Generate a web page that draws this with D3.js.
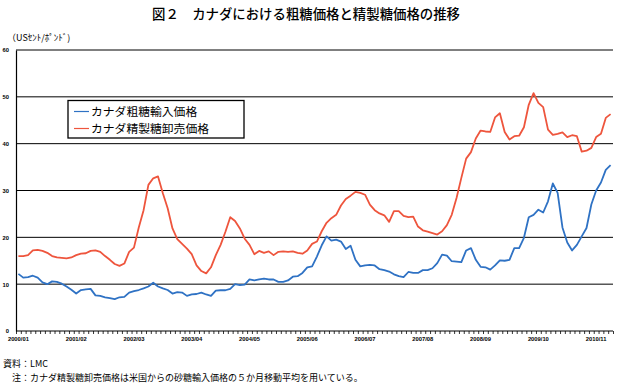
<!DOCTYPE html>
<html><head><meta charset="utf-8">
<script src="https://cdn.jsdelivr.net/npm/d3@7"></script>
<style>
html,body{margin:0;padding:0;background:#fff;}
svg{display:block;font-family:"Noto Sans CJK JP","Liberation Sans",sans-serif;}
</style></head>
<body>
<svg id="chart" width="617" height="389"></svg>
<script>
const title = "図２　カナダにおける粗糖価格と精製糖価格の推移";
const unitLabel = "（USｾﾝﾄ/ﾎﾟﾝﾄﾞ)";
const seriesNames = ["カナダ粗糖輸入価格", "カナダ精製糖卸売価格"];
const xTickLabels = ["2000/01","2001/02","2002/03","2003/04","2004/05","2005/06","2006/07","2007/08","2008/09","2009/10","2010/11"];
const yTicks = [0,10,20,30,40,50,60];
const rawSugar = [12.2,11.4,11.5,11.8,11.4,10.4,10.0,10.6,10.5,10.1,9.5,8.8,8.0,8.75,8.9,9.0,7.6,7.5,7.2,7.0,6.8,7.2,7.3,8.2,8.5,8.75,9.1,9.5,10.3,9.5,9.1,8.75,8.0,8.3,8.2,7.5,7.8,7.9,8.2,7.8,7.5,8.6,8.7,8.7,9.0,10.0,9.8,9.9,11.0,10.8,11.0,11.2,11.0,11.0,10.5,10.5,10.8,11.6,11.7,12.4,13.6,13.8,15.9,18.3,20.2,19.3,19.5,19.1,17.5,18.2,15.2,13.8,14.0,14.1,14.0,13.2,13.0,12.7,12.1,11.7,11.5,12.6,12.4,12.4,13.0,13.0,13.4,14.5,16.3,16.1,14.9,14.8,14.7,17.2,17.7,15.2,13.7,13.6,13.1,14.0,15.1,15.0,15.2,17.7,17.7,19.9,24.3,24.8,25.9,25.3,27.7,31.5,29.5,22.1,18.9,17.2,18.4,20.2,22.0,27.0,30.0,31.7,34.4,35.4];
const refinedSugar = [16.0,16.0,16.2,17.2,17.3,17.1,16.7,16.0,15.7,15.6,15.5,15.7,16.2,16.5,16.6,17.1,17.2,16.9,16.0,15.2,14.3,13.9,14.4,16.9,17.8,22.1,25.8,31.2,32.6,33.0,29.4,26.2,21.9,19.6,18.6,17.6,16.4,14.0,12.8,12.3,13.6,16.2,18.4,21.2,24.3,23.5,21.9,19.7,18.4,16.4,17.1,16.7,17.0,16.2,16.9,17.0,16.9,17.0,16.7,16.5,17.2,18.6,19.1,21.3,23.1,24.1,24.8,26.8,28.2,28.9,29.7,29.5,29.1,27.0,25.8,25.1,24.7,23.3,25.6,25.6,24.6,24.3,24.4,22.3,21.5,21.2,20.9,20.6,21.3,22.6,24.8,28.4,32.7,36.8,38.2,41.1,42.8,42.6,42.5,45.6,46.5,42.5,40.9,41.6,41.7,43.5,48.3,50.8,48.7,47.8,43.0,41.9,42.1,42.4,41.4,41.8,41.6,38.3,38.5,39.1,41.4,42.1,45.5,46.3];
const colors = ["#2f72c4", "#ee553d"];
const monthsPerLabel = 12;

const svg = d3.select("#chart");
const n = rawSugar.length;
const x = d3.scaleLinear().domain([-0.5, n - 0.5]).range([16, 613]);
const y = d3.scaleLinear().domain([0, 60]).range([331, 50]);

// title
svg.append("text").attr("x", 306).attr("y", 19).attr("text-anchor", "middle")
  .attr("font-size", 13.4).attr("font-weight", 500).attr("fill", "#000").text(title);
svg.append("text").attr("x", 7).attr("y", 41).attr("font-size", 9).attr("fill", "#000").text(unitLabel);

// gridlines
svg.append("g").selectAll("line").data(yTicks.filter(d => d > 0)).join("line")
  .attr("x1", 16).attr("x2", 613).attr("y1", d => y(d)).attr("y2", d => y(d))
  .attr("stroke", "#000").attr("stroke-width", 1);

// y axis
const yAxis = d3.axisLeft(y).tickValues(yTicks).tickSize(0).tickPadding(7);
const gy = svg.append("g").attr("transform", "translate(16,0)").call(yAxis);
gy.select(".domain").attr("stroke", "#000").attr("stroke-width", 1.2);
gy.selectAll("text").attr("font-size", 5.8).attr("font-family", "Liberation Sans, Arial, sans-serif").attr("font-weight", "bold").attr("fill", "#000");

// x axis (monthly tick marks at category boundaries)
const boundaries = d3.range(n + 1).map(i => i - 0.5);
const xAxis = d3.axisBottom(x).tickValues(boundaries).tickSize(3).tickFormat("");
const gx = svg.append("g").attr("transform", "translate(0,331)").call(xAxis);
gx.select(".domain").attr("stroke", "#000").attr("stroke-width", 1.2).attr("d", "M16,0H613");
gx.selectAll(".tick line").attr("stroke", "#000").attr("stroke-width", 0.8);
svg.append("g").selectAll("text").data(xTickLabels).join("text")
  .attr("x", (d, i) => x(i * monthsPerLabel)).attr("y", 341)
  .attr("text-anchor", "middle").attr("font-size", 5.8)
  .attr("font-family", "Liberation Sans, Arial, sans-serif").attr("font-weight", "bold")
  .attr("fill", "#000").text(d => d);

// lines
const line = d3.line().x((d, i) => x(i)).y(d => y(d));
[rawSugar, refinedSugar].forEach((s, k) => {
  svg.append("path").datum(s).attr("d", line).attr("fill", "none")
    .attr("stroke", colors[k]).attr("stroke-width", 1.8).attr("stroke-linejoin", "round");
});

// legend
const lg = svg.append("g");
lg.append("rect").attr("x", 68).attr("y", 100.5).attr("width", 176).attr("height", 37.5)
  .attr("fill", "#fff").attr("stroke", "#000").attr("stroke-width", 1.3);
seriesNames.forEach((name, k) => {
  const yy = 111.5 + k * 17;
  lg.append("line").attr("x1", 74).attr("x2", 89).attr("y1", yy).attr("y2", yy)
    .attr("stroke", colors[k]).attr("stroke-width", 1.2);
  lg.append("text").attr("x", 91).attr("y", yy + 4.2).attr("font-size", 11.8).attr("fill", "#000").text(name);
});

// notes
svg.append("text").attr("x", 3).attr("y", 366.5).attr("font-size", 9).attr("fill", "#000").text("資料：LMC");
svg.append("text").attr("x", 12).attr("y", 380.5).attr("font-size", 9).attr("fill", "#000")
  .text("注：カナダ精製糖卸売価格は米国からの砂糖輸入価格の５か月移動平均を用いている。");
</script>
</body></html>
